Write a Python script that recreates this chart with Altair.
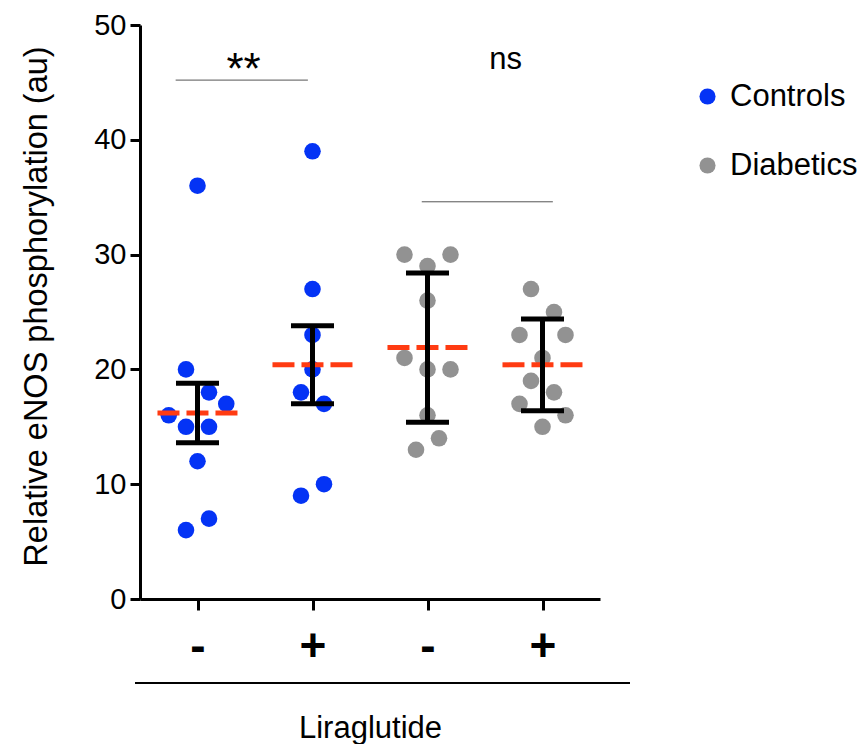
import altair as alt
import pandas as pd

FONT = "Liberation Sans"

# ---- data ----
positions = [1, 2, 3, 4]
groups = ["Controls", "Controls", "Diabetics", "Diabetics"]
treat_labels = ["-", "+", "-", "+"]

ctrl_minus = [36, 20, 18, 17, 16, 15, 15, 12, 7, 6]
ctrl_minus_jit = [0, -1, 1, 2.5, -2.5, -1, 1, 0, 1, -1]
ctrl_plus = [39, 27, 23, 20, 18, 17, 10, 9]
ctrl_plus_jit = [0, 0, 0, 0, -1, 1, 1, -1]
diab_minus = [30, 30, 29, 26, 21, 20, 20, 16, 14, 13]
diab_minus_jit = [-2, 2, 0, 0, -2, 0, 2, 0, 1, -1]
diab_plus = [27, 25, 23, 23, 21, 19, 18, 17, 16, 15]
diab_plus_jit = [-1, 1, -2, 2, 0, -1, 1, -2, 2, 0]

means = [16.2, 20.4, 21.9, 20.4]
err_low = [13.6, 17.0, 15.4, 16.4]
err_high = [18.8, 23.8, 28.4, 24.4]

sig_x1 = [0.81, 2.95]
sig_x2 = [1.96, 4.09]
sig_y = [45.2, 34.6]
sig_text = ["**", "ns"]
sig_text_size = [44, 31]
sig_text_x = [1.40, 3.68]
sig_text_y = [44.9, 46.2]

# ---- tables ----
series = [ctrl_minus, ctrl_plus, diab_minus, diab_plus]
jits = [ctrl_minus_jit, ctrl_plus_jit, diab_minus_jit, diab_plus_jit]
rows = []
for pos, grp, vals, jit in zip(positions, groups, series, jits):
    for v, j in zip(vals, jit):
        rows.append({"pos": pos, "jit": j, "value": v, "group": grp})
pts = pd.DataFrame(rows)

summ = pd.DataFrame({"pos": positions, "mean": means, "lo": err_low, "hi": err_high})
sig = pd.DataFrame({"x1": sig_x1, "x2": sig_x2, "y": sig_y})
sig_t = pd.DataFrame({"x": sig_text_x, "y": sig_text_y, "t": sig_text, "s": sig_text_size})

xscale = alt.Scale(domain=[0.5, 4.5], nice=False, zero=False)
yscale = alt.Scale(domain=[0, 50], nice=False)

xaxis = alt.Axis(
    values=positions, title="Liraglutide", grid=False,
    labelExpr="datum.value % 2 == 1 ? '-' : '+'",
    labelFontSize=46, labelFontWeight="bold", labelPadding=14, tickSize=11,
    titleFontSize=31, titleFontWeight="normal", titlePadding=44,
)
yaxis = alt.Axis(
    values=[0, 10, 20, 30, 40, 50], title="Relative eNOS phosphorylation (au)",
    grid=False, labelFontSize=29, labelPadding=4, tickSize=10,
    titleFontSize=32.5, titleFontWeight="normal", titlePadding=40, titleY=281,
)

points = alt.Chart(pts).transform_calculate(
    xp="datum.pos + datum.jit * 0.1"
).mark_circle(size=275, opacity=1).encode(
    x=alt.X("xp:Q", scale=xscale, axis=xaxis),
    y=alt.Y("value:Q", scale=yscale, axis=yaxis),
    color=alt.Color(
        "group:N",
        scale=alt.Scale(domain=["Controls", "Diabetics"], range=["#0433f5", "#929292"]),
        legend=alt.Legend(
            title=None, orient="none", legendX=552, legendY=56,
            labelFontSize=31, symbolSize=260, symbolType="circle",
            symbolStrokeWidth=0, rowPadding=37, labelOffset=7, padding=0,
        ),
    ),
)

mean_lines = alt.Chart(summ).transform_calculate(
    a="datum.pos - 0.348", b="datum.pos + 0.348"
).mark_rule(color="#ff3b12", strokeWidth=5, strokeDash=[22, 7]).encode(
    x=alt.X("a:Q", scale=xscale), x2="b:Q", y=alt.Y("mean:Q", scale=yscale)
)

err_v = alt.Chart(summ).mark_rule(color="black", strokeWidth=5).encode(
    x=alt.X("pos:Q", scale=xscale), y=alt.Y("lo:Q", scale=yscale), y2="hi:Q"
)
cap_lo = alt.Chart(summ).transform_calculate(
    a="datum.pos - 0.187", b="datum.pos + 0.187"
).mark_rule(color="black", strokeWidth=5).encode(
    x=alt.X("a:Q", scale=xscale), x2="b:Q", y=alt.Y("lo:Q", scale=yscale)
)
cap_hi = alt.Chart(summ).transform_calculate(
    a="datum.pos - 0.187", b="datum.pos + 0.187"
).mark_rule(color="black", strokeWidth=5).encode(
    x=alt.X("a:Q", scale=xscale), x2="b:Q", y=alt.Y("hi:Q", scale=yscale)
)

sig_lines = alt.Chart(sig).mark_rule(color="#555555", strokeWidth=1).encode(
    x=alt.X("x1:Q", scale=xscale), x2="x2:Q", y=alt.Y("y:Q", scale=yscale)
)
sig_texts = alt.Chart(sig_t).mark_text(
    font=FONT, baseline="alphabetic", align="center", color="black"
).encode(
    x=alt.X("x:Q", scale=xscale), y=alt.Y("y:Q", scale=yscale), text="t:N",
    size=alt.Size("s:Q", scale=None, legend=None),
)

group_line = alt.Chart(summ).mark_rule(color="black", strokeWidth=1.5).encode(
    x=alt.value(-5), x2=alt.value(490), y=alt.value(658)
)

chart = alt.layer(
    sig_lines, sig_texts, points, mean_lines, err_v, cap_lo, cap_hi, group_line
).properties(
    width=460, height=574,
    autosize=alt.AutoSizeParams(type="none"),
    padding={"left": 140, "top": 25, "right": 263, "bottom": 145},
    background="white",
).configure_view(stroke="transparent", strokeWidth=0).configure_axis(
    domainColor="black", domainWidth=3, tickColor="black", tickWidth=3,
    labelColor="black", titleColor="black", labelFont=FONT, titleFont=FONT,
).configure_legend(labelFont=FONT, labelColor="black")

chart.save("out.html", embed_options={"renderer": "svg", "actions": False})
